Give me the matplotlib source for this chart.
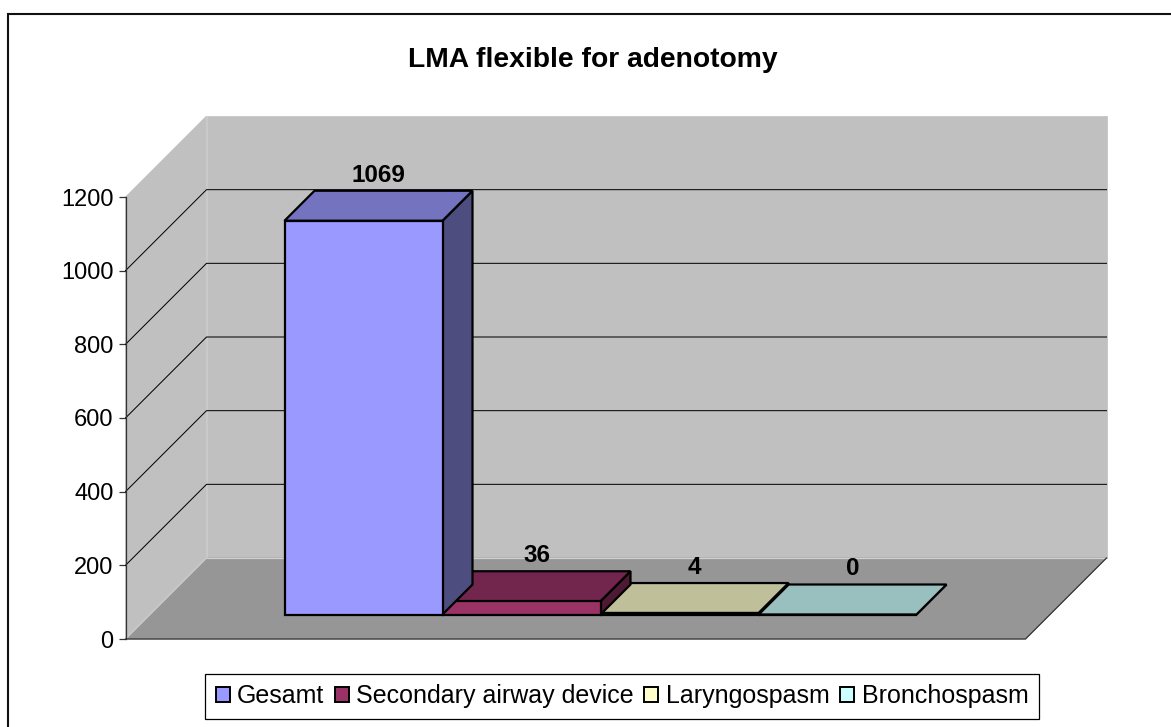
import matplotlib
matplotlib.use('Agg')
from matplotlib import pyplot as plt
from matplotlib.patches import Patch, Polygon, Rectangle

title = 'LMA flexible for adenotomy'
series = ['Gesamt', 'Secondary airway device', 'Laryngospasm', 'Bronchospasm']
values = [1069, 36, 4, 0]
yticks = [0, 200, 400, 600, 800, 1000, 1200]
front_colors = ['#9999ff', '#993366', '#ffffcc', '#ccffff']
top_colors = ['#7373bf', '#73264d', '#bfbf99', '#99bfbf']
side_colors = ['#4d4d80', '#4d1933', '#808066', '#668080']

W, H = 1171, 727
# plot box (front plane) in pixels
L, R, TOP, BOT = 125.5, 1025.5, 197.0, 639.0
DEPTH = 81.0       # wall depth, pixels
BAR_W = 158.0      # bar width, pixels
BAR_LEFT = 284.5   # first bar, pixels
BAR_NEAR = 24.5    # floor gap in front of bars
BAR_DEPTH = 30.0

fig = plt.figure(figsize=(W / 100, H / 100), dpi=100)
plt.rcParams['font.family'] = ['Liberation Sans', 'DejaVu Sans']
ax = fig.add_axes([L / W, 1 - BOT / H, (R - L) / W, (BOT - TOP) / H])
ax.set_xlim(0, R - L)
ax.set_ylim(0, 1200)
ax.patch.set_visible(False)

per_px = 1200 / (BOT - TOP)


def skew(x, v, d):
    # point at depth d (pixels) behind the front plane
    return (x + d, v + d * per_px)


def face(pts, color, lw=0.5, ec=None, z=1):
    ax.add_patch(Polygon(pts, closed=True, fc=color, ec=ec or color, lw=lw, clip_on=False,
                         zorder=z, joinstyle='miter'))


width = R - L
# walls and floor
face([skew(0, 0, DEPTH), skew(width, 0, DEPTH), skew(width, 1200, DEPTH), skew(0, 1200, DEPTH)], '#c0c0c0')
face([skew(0, 0, 0), skew(0, 1200, 0), skew(0, 1200, DEPTH), skew(0, 0, DEPTH)], '#c0c0c0')
face([skew(0, 0, 0), skew(width, 0, 0), skew(width, 0, DEPTH), skew(0, 0, DEPTH)], '#969696', z=1.2)
ax.plot(*zip(skew(0, 0, 0), skew(width, 0, 0), skew(width, 0, DEPTH)), color='#333333', lw=0.9,
        clip_on=False, zorder=2)
ax.plot(*zip(skew(0, 0, DEPTH), skew(width, 0, DEPTH)), color='#d0d0d0', lw=0.9, clip_on=False, zorder=1.5)
ax.plot(*zip(skew(0, 0, 0), skew(0, 0, DEPTH)), color='#d0d0d0', lw=0.9, clip_on=False, zorder=1.5)

# gridlines, top one is only the wall edge
for t in yticks[1:-1]:
    ax.plot(*zip(skew(0, t, 0), skew(0, t, DEPTH), skew(width, t, DEPTH)), color='black', lw=0.72,
            clip_on=False, zorder=2)

# bars, last drawn first so the left ones sit on top
first = BAR_LEFT - L - BAR_NEAR
for i in range(len(values) - 1, -1, -1):
    v = values[i]
    x0 = first + i * BAR_W
    x1 = x0 + BAR_W
    d0 = BAR_NEAR
    d1 = BAR_NEAR + BAR_DEPTH
    z = 3 + (len(values) - i) * 0.1
    kw = dict(lw=1.6, ec='black', z=z)
    face([skew(x1, 0, d0), skew(x1, 0, d1), skew(x1, v, d1), skew(x1, v, d0)], side_colors[i], **kw)
    face([skew(x0, v, d0), skew(x1, v, d0), skew(x1, v, d1), skew(x0, v, d1)], top_colors[i], **kw)
    face([skew(x0, 0, d0), skew(x1, 0, d0), skew(x1, v, d0), skew(x0, v, d0)], front_colors[i], **kw)
    lx, ly = skew((x0 + x1) / 2, v, (d0 + d1) / 2)
    ax.annotate(str(v), (lx, ly), xytext=(0, 22), textcoords='offset points', ha='center', va='center',
                fontsize=17.5, fontweight='bold', annotation_clip=False, zorder=6)

ax.set_yticks(yticks)
ax.set_xticks([])
ax.tick_params(axis='y', length=5, width=0.9, color='#333333', labelsize=17, pad=3.5)
for s in ['top', 'right', 'bottom']:
    ax.spines[s].set_visible(False)
ax.spines['left'].set_color('#333333')
ax.spines['left'].set_linewidth(0.9)
ax.spines['left'].set_zorder(5)

fig.text(592.5 / W, 1 - 60 / H, title, ha='center', va='center', fontsize=20.3, fontweight='bold')

# chart frame, right and bottom edges fall outside the picture
fig.add_artist(Rectangle((8 / W, -10 / H), (W + 10) / W, (H + 10 - 14) / H, transform=fig.transFigure,
                         fc='none', ec='#111111', lw=1.5, zorder=0))

handles = [Patch(fc=c, ec='black', lw=1.4) for c in front_colors]
leg = fig.legend(handles, series, loc='center', bbox_to_anchor=(622 / W, 1 - 696 / H), ncol=4, fontsize=18,
                 frameon=True, fancybox=False, edgecolor='black', framealpha=1,
                 handlelength=0.56, handleheight=0.56, handletextpad=0.3, columnspacing=0.42,
                 borderpad=0.42, borderaxespad=0)
leg.get_frame().set_linewidth(0.9)

fig.savefig('out.png', dpi=100)
